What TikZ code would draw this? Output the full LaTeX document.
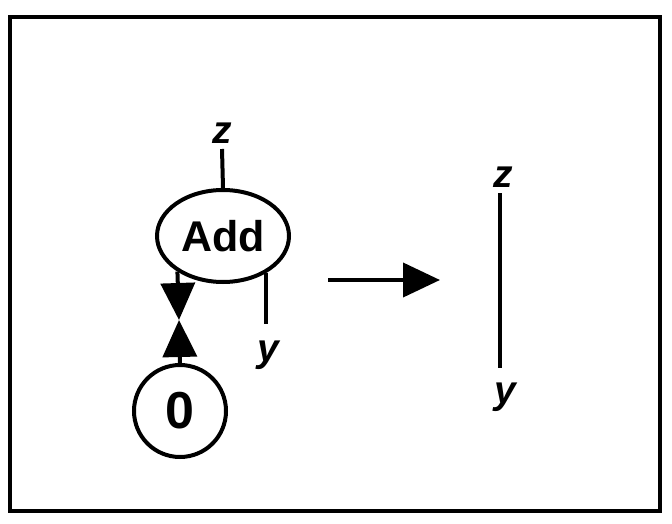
\documentclass[tikz,border=0pt]{standalone}
\usepackage{fontspec}
\setmainfont{Liberation Sans}
\usepackage{tikz}
\usetikzlibrary{shapes.geometric,arrows.meta}

\tikzset{
    wire/.style={line width=4pt},
    bigtip/.style={-{Triangle[length=37pt,width=34pt]}},
    varlabel/.style={font=\fontsize{39}{44}\selectfont\bfseries\itshape, inner sep=4pt, anchor=base}
}

\begin{document}
\begin{tikzpicture}[x=1pt, y=-1pt, line width=4pt]
    \useasboundingbox (0,0) rectangle (672,524);
    % frame
    \draw[line width=4.5pt] (10,17) rectangle (660,511);

    % left graph
    \node[draw, ellipse, minimum width=132pt, minimum height=92pt, inner sep=0pt,
          font=\fontsize{43}{48}\selectfont\bfseries] (add) at (223,236) {Add};
    \node[draw, circle, minimum size=92pt, inner sep=0pt,
          font=\fontsize{52}{56}\selectfont\bfseries] (zero) at (180,411) {0};
    \node[varlabel] (zin) at (222,143) {z};
    \node[varlabel] (yin) at (268,361) {y};
    \coordinate (meet) at (179,320);
    \draw[wire] (add.north) -- (zin.south);
    \draw[wire, shorten >=10pt] (add.-41) -- (add.-41 |- yin.north);
    \draw[wire, bigtip] (add.-142) -- (meet);
    \draw[wire, bigtip] (zero.north) -- (meet);

    % rewrite arrow
    \coordinate (from) at (328,280);
    \coordinate (to) at (440,280);
    \draw[wire, bigtip] (from) -- (to);

    % right graph
    \node[varlabel] (zout) at (503,187) {z};
    \node[varlabel] (yout) at (505,403) {y};
    \draw[wire, shorten >=8pt] (zout.south -| 500,0) -- (yout.north -| 500,0);
\end{tikzpicture}
\end{document}
